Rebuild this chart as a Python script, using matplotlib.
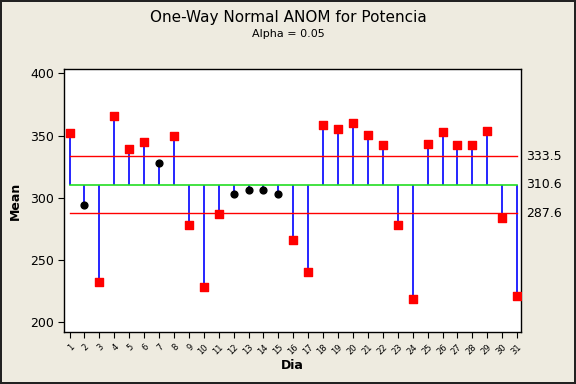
import numpy as np
import matplotlib
matplotlib.use("Agg")
import matplotlib.pyplot as plt

dia = list(range(1, 32))
means = [351.8, 294.0, 232.1, 365.5, 339.0, 344.6, 327.7, 349.4, 277.9, 228.1,
         286.7, 302.8, 306.0, 306.0, 302.8, 265.9, 240.2, 358.2, 355.0, 359.8,
         350.2, 342.2, 277.9, 218.5, 343.0, 352.6, 342.2, 342.2, 353.4, 283.5,
         220.9]
center = 310.6
udl = 333.5
ldl = 287.6

bg = "#eeebe0"
fig = plt.figure(figsize=(5.76, 3.84), dpi=100, facecolor=bg,
                 edgecolor="#222222", linewidth=1.5)
ax = fig.add_axes([0.1116, 0.1346, 0.7934, 0.685])

x = np.array(dia)
y = np.array(means)
out = (y > udl) | (y < ldl)

ax.vlines(x, center, y, color="#0000ff", linewidth=1.2, zorder=2)
ax.plot([1, 31], [center, center], color="#22dd22", linewidth=1.2, zorder=3)
ax.plot([1, 31], [udl, udl], color="#ff0000", linewidth=1.0, zorder=3)
ax.plot([1, 31], [ldl, ldl], color="#ff0000", linewidth=1.0, zorder=3)
ax.scatter(x[out], y[out], marker="s", s=30, color="#ff0000", zorder=4)
ax.scatter(x[~out], y[~out], marker="o", s=24, color="black", zorder=4)

ax.set_xlim(0.65, 31.28)
ax.set_ylim(192, 403.2)
ax.set_xticks(dia)
ax.set_xticklabels([str(d) for d in dia], rotation=45, ha="right",
                   rotation_mode="anchor", fontsize=6)
ax.set_yticks([200, 250, 300, 350, 400])
ax.tick_params(axis="y", labelsize=9, length=4)
ax.tick_params(axis="x", length=4)
for s in ax.spines.values():
    s.set_linewidth(1.0)

for v in [udl, center, ldl]:
    ax.text(1.01, v, f"{v:.1f}", transform=ax.get_yaxis_transform(),
            va="center", ha="left", fontsize=9)

ax.set_xlabel("Dia", fontsize=9, fontweight="bold", labelpad=2)
ax.set_ylabel("Mean", fontsize=9, fontweight="bold", labelpad=6)
fig.text(0.5, 0.955, "One-Way Normal ANOM for Potencia", ha="center",
         va="center", fontsize=11)
fig.text(0.5, 0.912, "Alpha = 0.05", ha="center", va="center", fontsize=8)

fig.savefig("out.png", dpi=100, facecolor=bg, edgecolor="#222222")
